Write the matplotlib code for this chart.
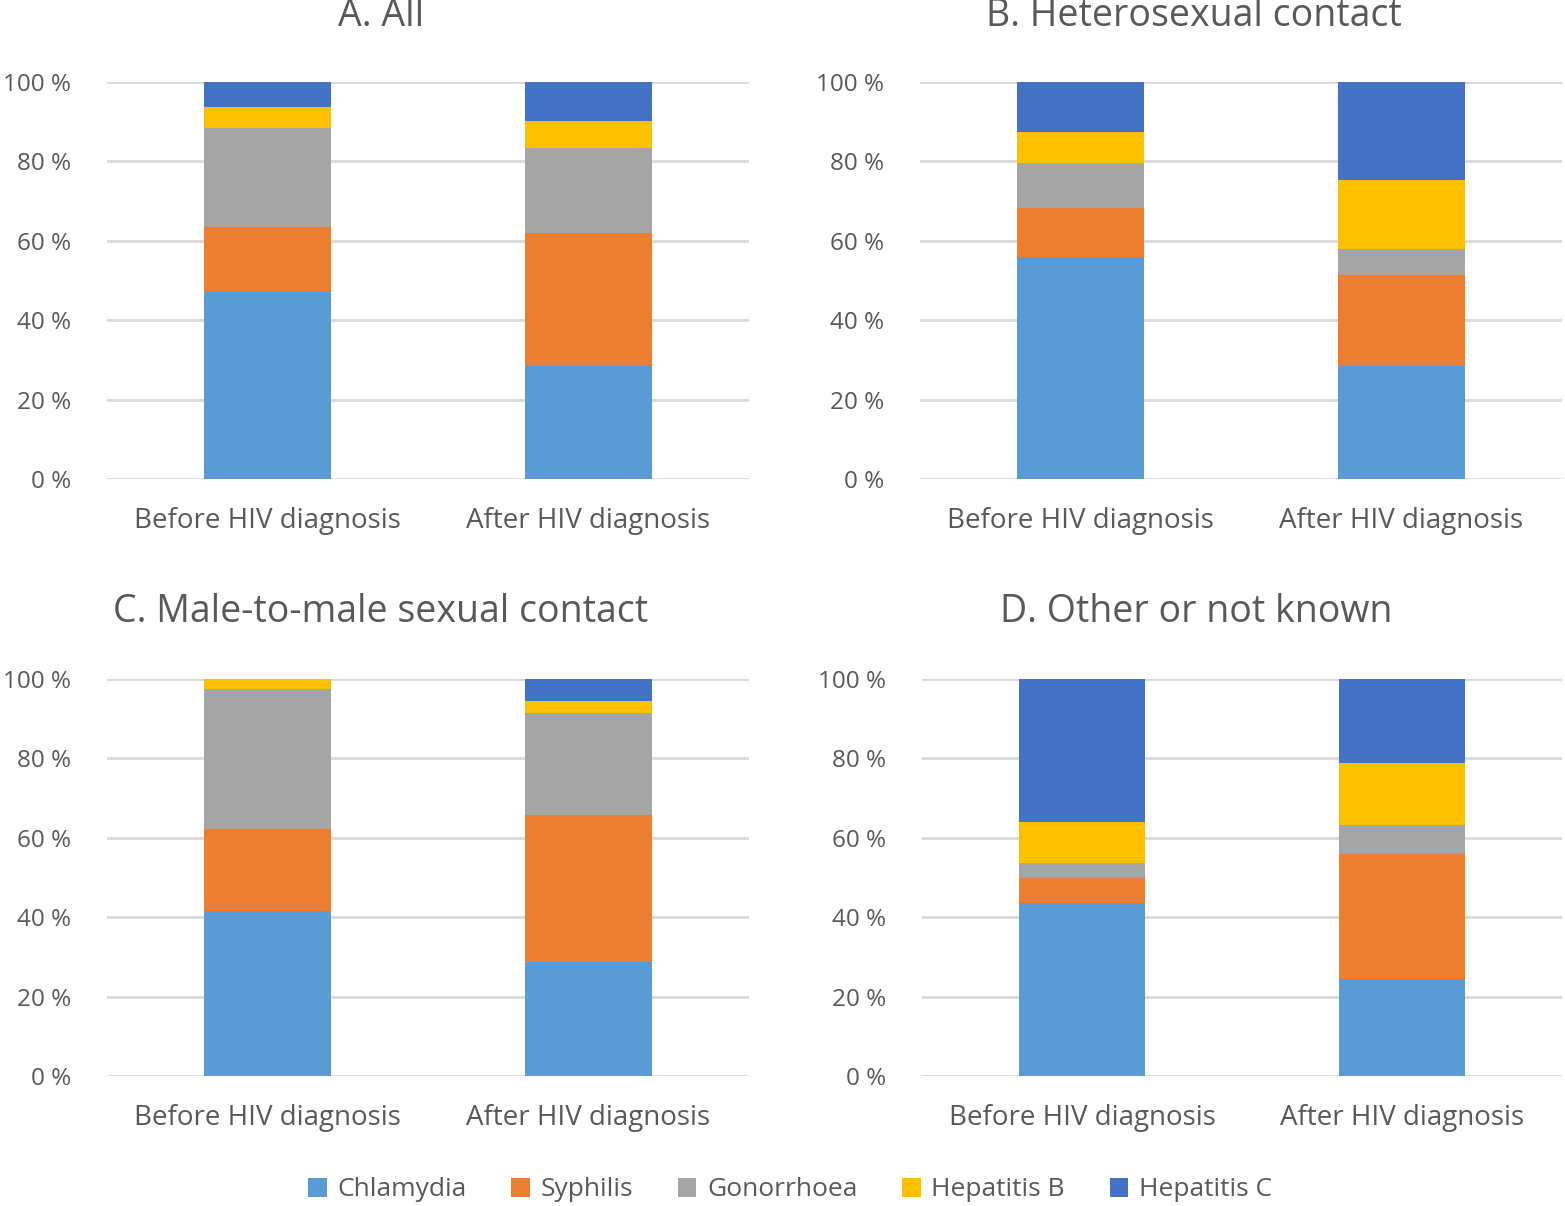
import matplotlib
matplotlib.use("Agg")
import matplotlib.pyplot as plt
import numpy as np

plt.rcParams['font.family'] = ['Open Sans', 'DejaVu Sans']

# data (percent of STIs per group)
groups = ["Before HIV diagnosis", "After HIV diagnosis"]
infections = ["Chlamydia", "Syphilis", "Gonorrhoea", "Hepatitis B", "Hepatitis C"]
colors = ["#5b9bd5", "#ed7d31", "#a5a5a5", "#ffc000", "#4472c4"]

titles = ["A. All", "B. Heterosexual contact",
          "C. Male-to-male sexual contact", "D. Other or not known"]

# rows: Chlamydia, Syphilis, Gonorrhoea, Hepatitis B, Hepatitis C ; cols: before, after
panel_a = [[47.0, 28.4], [16.5, 33.5], [25.0, 21.6], [5.2, 6.7], [6.3, 9.8]]
panel_b = [[55.9, 28.4], [12.3, 22.9], [11.4, 6.6], [7.7, 17.5], [12.7, 24.6]]
panel_c = [[41.5, 28.8], [20.7, 36.9], [35.3, 25.8], [2.5, 2.9], [0.0, 5.6]]
panel_d = [[43.5, 24.4], [6.4, 31.5], [3.8, 7.2], [10.2, 15.7], [36.1, 21.2]]

yticks = [0, 20, 40, 60, 80, 100]

W, H = 1565, 1206
fig = plt.figure(figsize=(W / 100, H / 100), dpi=100)

# axes boxes in pixels: left, right, top, bottom
boxes = [(107, 749, 82, 479), (920, 1562, 82, 479),
         (107, 749, 679, 1076), (922, 1562, 679, 1076)]
title_pos = [(381, 16), (1194, 16), (381, 612), (1196, 612)]
text_col = "#595959"

handles = None
for i, data in enumerate([panel_a, panel_b, panel_c, panel_d]):
    l, r, t, b = boxes[i]
    ax = fig.add_axes([l / W, 1 - b / H, (r - l) / W, (b - t) / H])
    x = np.arange(len(groups))
    bottom = np.zeros(len(groups))
    bars = []
    for k, name in enumerate(infections):
        vals = np.array(data[k])
        bc = ax.bar(x, vals, 0.395, bottom=bottom, color=colors[k], label=name, zorder=3)
        bars.append(bc)
        bottom += vals
    handles = bars
    ax.set_xlim(-0.5, 1.5)
    ax.set_ylim(0, 100)
    ax.set_yticks(yticks)
    ax.set_yticklabels([f"{v} %" for v in yticks])
    ax.set_xticks(x)
    ax.set_xticklabels(groups)
    ax.grid(axis='y', color="#d9d9d9", linewidth=2, zorder=0)
    ax.set_axisbelow(True)
    for s in ax.spines.values():
        s.set_visible(False)
    ax.tick_params(axis='both', length=0, labelcolor=text_col)
    ax.tick_params(axis='y', pad=26, labelsize=17.5)
    ax.tick_params(axis='x', pad=20, labelsize=20)
    fig.text(title_pos[i][0] / W, 1 - title_pos[i][1] / H, titles[i],
             fontsize=27, color=text_col, ha='center', va='center')

fig.legend(handles, infections, loc='center', bbox_to_anchor=(790 / W, 1 - 1190 / H),
           ncol=5, frameon=False, fontsize=19, labelcolor=text_col,
           handlelength=0.7, handleheight=0.7, handletextpad=0.4, columnspacing=1.7)

fig.savefig("out.png", dpi=100)
